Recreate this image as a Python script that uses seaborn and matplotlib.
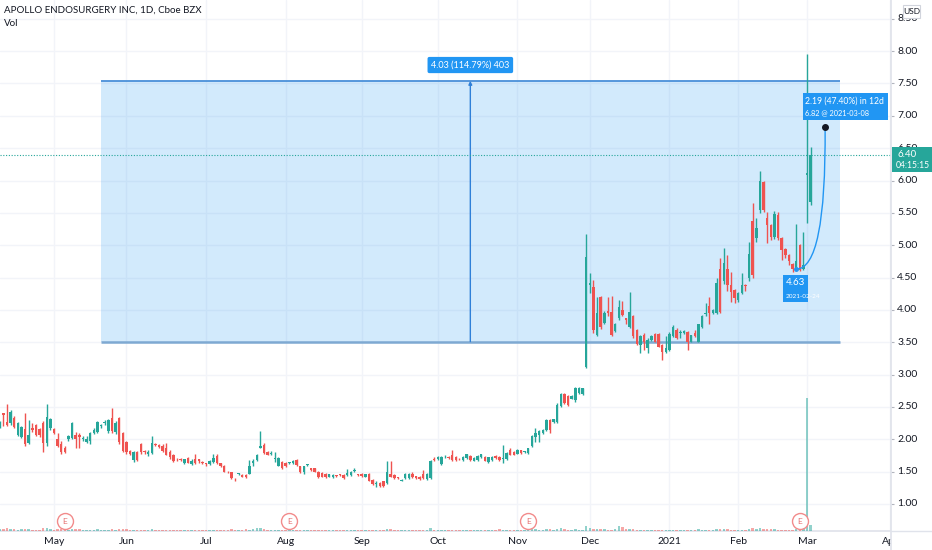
import numpy as np
import pandas as pd
import matplotlib
matplotlib.use('Agg')
import matplotlib.pyplot as plt
import seaborn as sns
from matplotlib.path import Path
from matplotlib.patches import PathPatch, Rectangle

# trading calendar (NYSE holidays removed)
holidays = ['2020-04-10', '2020-05-25', '2020-07-03', '2020-09-07', '2020-11-26',
            '2020-12-25', '2021-01-01', '2021-01-18', '2021-02-15']
bday = pd.offsets.CustomBusinessDay(holidays=holidays)
all_dates = pd.date_range('2020-04-09', '2021-04-01', freq=bday)

# daily OHLC, 2020-04-09 .. 2021-03-02
open_ = [2.22, 2.40, 2.27, 2.25, 2.33, 2.07, 2.04, 2.16, 1.94, 2.17,
         2.22, 2.16, 2.25, 1.94, 2.17, 2.16, 2.00, 1.93, 1.87, 2.00,
         2.02, 2.07, 2.07, 2.00, 1.96, 1.98, 2.10, 2.12, 2.20, 2.25,
         2.13, 2.33, 2.12, 2.33, 2.10, 1.96, 1.82, 1.68, 1.80, 1.92,
         1.82, 1.77, 1.79, 1.93, 1.91, 1.90, 1.86, 1.81, 1.76, 1.70,
         1.70, 1.63, 1.71, 1.62, 1.69, 1.69, 1.65, 1.63, 1.62, 1.65,
         1.74, 1.63, 1.59, 1.50, 1.49, 1.39, 1.46, 1.45, 1.45, 1.47,
         1.64, 1.68, 1.87, 1.91, 1.81, 1.77, 1.70, 1.59, 1.65, 1.64,
         1.63, 1.63, 1.68, 1.58, 1.49, 1.60, 1.55, 1.55, 1.50, 1.48,
         1.47, 1.42, 1.41, 1.44, 1.46, 1.45, 1.45, 1.45, 1.51, 1.46,
         1.47, 1.42, 1.47, 1.37, 1.31, 1.33, 1.35, 1.32, 1.47, 1.45,
         1.41, 1.36, 1.40, 1.40, 1.47, 1.43, 1.42, 1.46, 1.38, 1.40,
         1.69, 1.69, 1.62, 1.72, 1.73, 1.76, 1.72, 1.70, 1.68, 1.71,
         1.74, 1.67, 1.68, 1.72, 1.73, 1.65, 1.68, 1.74, 1.73, 1.70,
         1.69, 1.84, 1.81, 1.78, 1.83, 1.80, 1.79, 1.89, 2.04, 2.07,
         2.09, 2.14, 2.30, 2.26, 2.26, 2.51, 2.70, 2.67, 2.63, 2.61,
         2.71, 2.70, 3.12, 4.39, 4.36, 3.61, 4.20, 3.80, 3.98, 3.97,
         3.68, 3.87, 4.00, 3.87, 3.74, 3.90, 3.69, 3.46, 3.61, 3.41,
         3.54, 3.63, 3.63, 3.46, 3.35, 3.38, 3.59, 3.69, 3.64, 3.64,
         3.66, 3.51, 3.65, 3.51, 3.74, 3.93, 4.06, 3.95, 3.95, 4.64,
         4.44, 4.64, 4.38, 4.31, 4.15, 4.26, 4.39, 4.49, 5.38, 5.11,
         5.54, 5.98, 5.42, 5.31, 5.13, 5.47, 5.11, 4.94, 4.85, 4.71,
         4.64, 5.00, 4.63, 6.08, 5.67]
high = [2.28, 2.41, 2.55, 2.45, 2.36, 2.27, 2.20, 2.41, 2.30, 2.25,
        2.24, 2.18, 2.28, 2.55, 2.33, 2.18, 2.10, 1.97, 1.90, 2.07,
        2.27, 2.12, 2.10, 2.05, 2.05, 2.12, 2.18, 2.29, 2.24, 2.30,
        2.32, 2.49, 2.28, 2.34, 2.12, 1.98, 1.84, 1.82, 1.82, 1.94,
        1.84, 1.83, 2.05, 1.95, 1.93, 1.92, 1.94, 1.83, 1.78, 1.71,
        1.71, 1.70, 1.72, 1.69, 1.78, 1.70, 1.66, 1.64, 1.68, 1.77,
        1.78, 1.64, 1.60, 1.51, 1.50, 1.40, 1.48, 1.46, 1.46, 1.68,
        1.69, 1.77, 2.13, 1.95, 1.82, 1.82, 1.81, 1.72, 1.66, 1.65,
        1.65, 1.68, 1.69, 1.59, 1.59, 1.62, 1.56, 1.56, 1.51, 1.49,
        1.48, 1.47, 1.46, 1.45, 1.47, 1.46, 1.54, 1.51, 1.55, 1.47,
        1.48, 1.47, 1.48, 1.38, 1.35, 1.34, 1.36, 1.67, 1.67, 1.46,
        1.42, 1.38, 1.48, 1.48, 1.50, 1.44, 1.43, 1.53, 1.48, 1.68,
        1.73, 1.74, 1.74, 1.76, 1.74, 1.83, 1.74, 1.71, 1.74, 1.78,
        1.75, 1.72, 1.75, 1.78, 1.74, 1.73, 1.74, 1.75, 1.74, 1.91,
        1.80, 1.86, 1.82, 1.85, 1.84, 1.82, 1.87, 2.06, 2.17, 2.14,
        2.16, 2.31, 2.31, 2.32, 2.56, 2.71, 2.72, 2.68, 2.68, 2.81,
        2.81, 2.80, 5.17, 4.57, 4.46, 4.20, 4.22, 3.98, 4.20, 4.21,
        3.80, 4.15, 4.14, 3.88, 4.28, 3.92, 3.70, 3.61, 3.64, 3.56,
        3.62, 3.64, 3.64, 3.47, 3.59, 3.66, 3.77, 3.72, 3.69, 3.69,
        3.67, 3.62, 3.69, 3.79, 3.92, 4.10, 4.20, 4.02, 4.49, 4.80,
        4.95, 4.85, 4.59, 4.32, 4.28, 4.57, 4.40, 5.05, 5.65, 5.42,
        6.14, 6.00, 5.52, 5.33, 5.53, 5.52, 5.12, 4.95, 4.86, 4.72,
        5.33, 5.02, 5.21, 7.95, 6.52]
low = [2.18, 2.20, 2.20, 2.22, 2.17, 2.05, 2.02, 1.90, 1.93, 2.12,
       2.05, 2.04, 1.80, 1.90, 2.14, 2.08, 1.88, 1.78, 1.79, 1.98,
       2.00, 1.87, 1.87, 1.98, 1.94, 1.93, 2.08, 2.10, 2.18, 2.22,
       2.10, 2.10, 2.08, 1.93, 1.80, 1.78, 1.75, 1.65, 1.66, 1.78,
       1.78, 1.74, 1.77, 1.89, 1.86, 1.80, 1.75, 1.70, 1.65, 1.66,
       1.66, 1.62, 1.63, 1.61, 1.62, 1.64, 1.62, 1.58, 1.61, 1.64,
       1.62, 1.57, 1.49, 1.48, 1.39, 1.36, 1.45, 1.41, 1.40, 1.46,
       1.58, 1.66, 1.86, 1.78, 1.75, 1.76, 1.65, 1.58, 1.54, 1.57,
       1.62, 1.62, 1.59, 1.48, 1.47, 1.59, 1.51, 1.49, 1.40, 1.41,
       1.40, 1.41, 1.40, 1.42, 1.44, 1.39, 1.44, 1.44, 1.50, 1.44,
       1.42, 1.41, 1.35, 1.30, 1.27, 1.27, 1.27, 1.31, 1.41, 1.38,
       1.39, 1.35, 1.39, 1.39, 1.40, 1.39, 1.37, 1.39, 1.37, 1.39,
       1.67, 1.68, 1.61, 1.71, 1.70, 1.67, 1.67, 1.68, 1.67, 1.70,
       1.67, 1.66, 1.67, 1.71, 1.66, 1.64, 1.67, 1.70, 1.67, 1.63,
       1.68, 1.75, 1.75, 1.77, 1.78, 1.79, 1.78, 1.88, 1.96, 1.96,
       2.08, 2.13, 2.09, 2.25, 2.25, 2.50, 2.55, 2.52, 2.62, 2.58,
       2.70, 2.69, 3.10, 4.26, 3.64, 3.60, 3.70, 3.78, 3.90, 3.60,
       3.66, 3.85, 3.90, 3.78, 3.72, 3.57, 3.46, 3.33, 3.38, 3.33,
       3.52, 3.50, 3.42, 3.22, 3.33, 3.37, 3.58, 3.55, 3.56, 3.63,
       3.38, 3.50, 3.58, 3.50, 3.72, 3.90, 3.79, 3.93, 3.93, 3.95,
       4.40, 4.30, 4.12, 4.10, 4.13, 4.24, 4.30, 4.45, 4.50, 5.05,
       5.50, 5.52, 5.03, 5.08, 5.10, 5.08, 4.77, 4.80, 4.70, 4.58,
       4.63, 4.60, 4.61, 5.35, 5.62]
close = [2.25, 2.37, 2.22, 2.42, 2.19, 2.25, 2.19, 1.93, 2.07, 2.15,
         2.07, 2.07, 1.94, 2.34, 2.31, 2.10, 1.90, 1.81, 1.81, 2.05,
         2.25, 2.00, 2.04, 2.02, 2.01, 2.10, 2.14, 2.27, 2.22, 2.27,
         2.30, 2.13, 2.25, 1.96, 1.82, 1.80, 1.78, 1.80, 1.68, 1.80,
         1.80, 1.80, 1.94, 1.91, 1.88, 1.82, 1.76, 1.72, 1.67, 1.69,
         1.68, 1.69, 1.64, 1.67, 1.63, 1.66, 1.63, 1.62, 1.67, 1.71,
         1.63, 1.58, 1.50, 1.49, 1.40, 1.38, 1.47, 1.42, 1.41, 1.58,
         1.66, 1.76, 1.89, 1.79, 1.76, 1.78, 1.71, 1.71, 1.55, 1.58,
         1.64, 1.67, 1.60, 1.49, 1.58, 1.61, 1.52, 1.50, 1.41, 1.42,
         1.41, 1.46, 1.45, 1.43, 1.45, 1.40, 1.48, 1.50, 1.52, 1.45,
         1.43, 1.46, 1.36, 1.31, 1.32, 1.28, 1.28, 1.50, 1.42, 1.40,
         1.40, 1.37, 1.47, 1.47, 1.41, 1.40, 1.38, 1.40, 1.47, 1.67,
         1.68, 1.73, 1.72, 1.73, 1.71, 1.68, 1.68, 1.69, 1.73, 1.77,
         1.68, 1.71, 1.74, 1.77, 1.67, 1.72, 1.73, 1.71, 1.68, 1.71,
         1.79, 1.76, 1.76, 1.84, 1.79, 1.81, 1.86, 2.05, 2.09, 2.13,
         2.15, 2.30, 2.14, 2.31, 2.53, 2.70, 2.56, 2.53, 2.67, 2.80,
         2.80, 2.79, 4.82, 4.41, 3.69, 3.95, 3.74, 3.96, 3.96, 3.61,
         3.79, 4.05, 3.92, 3.85, 3.97, 3.59, 3.48, 3.59, 3.51, 3.54,
         3.60, 3.51, 3.43, 3.35, 3.41, 3.63, 3.73, 3.56, 3.65, 3.68,
         3.51, 3.61, 3.59, 3.78, 3.90, 3.95, 3.95, 4.00, 4.41, 3.97,
         4.72, 4.38, 4.28, 4.18, 4.26, 4.38, 4.37, 4.86, 4.54, 5.26,
         6.00, 5.54, 5.31, 5.13, 5.48, 5.11, 4.93, 4.85, 4.75, 4.63,
         4.75, 4.62, 4.69, 6.12, 6.40]
# volume in millions of shares
volume = [0.35, 0.4, 0.5, 0.3, 0.3, 0.25, 0.3, 0.45, 0.3, 0.2, 0.25, 0.2, 0.5, 0.55, 0.3,
          0.25, 0.3, 0.3, 0.2, 0.25, 0.35, 0.3, 0.3, 0.2, 0.2, 0.25, 0.2, 0.3, 0.2, 0.15,
          0.25, 0.4, 0.25, 0.45, 0.35,
          0.3, 0.2, 0.25, 0.2, 0.25, 0.15, 0.15, 0.3, 0.15, 0.15, 0.2, 0.2, 0.2, 0.2, 0.15,
          0.15, 0.15, 0.15, 0.15, 0.2, 0.15, 0.15,
          0.15, 0.15, 0.2, 0.25, 0.2, 0.25, 0.15, 0.3, 0.2, 0.15, 0.15, 0.3, 0.25, 0.3,
          0.5, 0.6, 0.35, 0.2, 0.15, 0.2, 0.2, 0.25,
          0.2, 0.3, 0.2, 0.15, 0.2, 0.2, 0.15, 0.15, 0.15, 0.2, 0.15, 0.15, 0.15, 0.15,
          0.15, 0.15, 0.15, 0.2, 0.15, 0.15, 0.15,
          0.15, 0.15, 0.2, 0.2, 0.15, 0.15, 0.15, 0.4, 0.3, 0.2, 0.15, 0.15, 0.15, 0.15,
          0.15, 0.15, 0.15, 0.2, 0.2, 0.5, 0.25,
          0.2, 0.2, 0.15, 0.15, 0.2, 0.15, 0.15, 0.15, 0.2, 0.15, 0.15, 0.15, 0.15, 0.15,
          0.15, 0.15, 0.15, 0.35, 0.2, 0.2, 0.2, 0.15,
          0.15, 0.15, 0.15, 0.2, 0.4, 0.3, 0.25, 0.2, 0.3, 0.3, 0.25, 0.4, 0.5, 0.3,
          0.25, 0.2, 0.3, 0.2, 0.15, 0.9,
          0.5, 0.4, 0.3, 0.35, 0.3, 0.25, 0.25, 0.3, 0.9, 0.8, 0.4, 0.3, 0.3, 0.25,
          0.2, 0.2, 0.2, 0.2, 0.15, 0.2, 0.2, 0.2,
          0.2, 0.2, 0.2, 0.2, 0.15, 0.2, 0.15, 0.2, 0.3, 0.2, 0.2, 0.2, 0.25, 0.35,
          0.4, 0.35, 0.3, 0.25, 0.2,
          0.2, 0.2, 0.2, 0.3, 0.6, 0.4, 0.5, 0.4, 0.3, 0.3, 0.3, 0.25, 0.2, 0.2,
          0.2, 0.2, 0.3, 0.35, 0.3,
          26.5, 1.1]
earnings_dates = ['2020-05-06', '2020-08-04', '2020-11-05', '2021-02-25']

# drawings on the chart
range_start, range_end = '2020-05-20', '2021-03-12'
range_low, range_high = 3.51, 7.54
range_label = '4.03 (114.79%) 403'
proj_start, proj_start_price = '2021-02-24', 4.63
proj_end, proj_end_price = '2021-03-08', 6.82
proj_label = '2.19 (47.40%) in 12d'
proj_sub = '6.82 @ 2021-03-08'
last_price = 6.40
countdown = '04:15:15'

n = len(close)
df = pd.DataFrame({'date': all_dates[:n], 'open': open_, 'high': high,
                   'low': low, 'close': close, 'volume': volume})
df['i'] = np.arange(n)
up = df['close'] >= df['open']
GREEN, RED = '#26a69a', '#ef5350'
colors = np.where(up, GREEN, RED)

sns.set_theme(style='white')
plt.rcParams['font.family'] = ['Lato', 'DejaVu Sans']

W, H = 932, 550
fig = plt.figure(figsize=(W / 100, H / 100), dpi=100)
ax = fig.add_axes([0, 19 / H, 891 / W, 531 / H])
ax.set_xlim(0.083, 246.2)
ax.set_ylim(0.583, 8.79)
for s in ax.spines.values():
    s.set_visible(False)
ax.spines['bottom'].set_visible(True)
ax.spines['bottom'].set_color('#e0e3eb')

# grid
ax.set_yticks(np.arange(1.0, 8.51, 0.5))
tick_idx, tick_lab = [], []
for k in range(1, len(all_dates)):
    if all_dates[k].month != all_dates[k - 1].month:
        tick_idx.append(k)
        d = all_dates[k]
        tick_lab.append(str(d.year) if d.month == 1 else d.strftime('%b'))
ax.set_xticks(tick_idx)
ax.set_xticklabels(tick_lab, fontsize=7.5, color='#131722')
ax.tick_params(axis='x', length=0, pad=4)
ax.tick_params(axis='y', length=0, labelleft=False)
ax.grid(True, color='#f2f4f9', lw=1)
ax.set_axisbelow(True)

def pos(date):
    return all_dates.get_loc(pd.Timestamp(date))

# price range tool
x0, x1 = pos(range_start), pos(range_end)
ax.add_patch(Rectangle((x0, range_low), x1 - x0, range_high - range_low,
                       fc='#2196f3', alpha=0.2, ec='none', zorder=1))
ax.hlines(range_high, x0, x1, color='#4a90d9', lw=1.3, zorder=2)
ax.hlines(range_low, x0, x1, color='#7ea9d2', lw=1.8, zorder=2)
xm = (x0 + x1) / 2
ax.annotate('', xy=(xm, range_high), xytext=(xm, range_low),
            arrowprops=dict(arrowstyle='-|>', color='#2f80d8', lw=1,
                            mutation_scale=5, shrinkA=0, shrinkB=0), zorder=2)
ax.text(xm, 7.785, range_label, ha='center', va='center', fontsize=6.5,
        color='white', zorder=6,
        bbox=dict(boxstyle='round,pad=0.4,rounding_size=0.2', fc='#2196f3', ec='none'))

# last price line
ax.axhline(last_price, color=GREEN, ls=(0, (1, 1.5)), lw=0.8, zorder=2)

# candles
ax.vlines(df['i'], df['low'], df['high'], colors=colors, lw=1, zorder=3)
body = (df['close'] - df['open']).abs().clip(lower=0.012)
ax.bar(df['i'], body, bottom=np.minimum(df['open'], df['close']),
       width=0.68, color=colors, lw=0, zorder=4)

# projection curve
p0 = (pos(proj_start), proj_start_price)
p2 = (pos(proj_end), proj_end_price)
p1 = (p2[0] + 0.3, proj_start_price)
curve = Path([p0, p1, p2], [Path.MOVETO, Path.CURVE3, Path.CURVE3])
ax.add_patch(PathPatch(curve, fill=False, ec='#2196f3', lw=1, zorder=5))
ax.plot(*p2, 'o', color='#131722', ms=4, zorder=6)
ax.plot(p0[0], p0[1], 'o', color='#2196f3', ms=2.5, zorder=6)
ax.add_patch(Rectangle((221.9, 6.94), 23.5, 0.41, fc='#2196f3', ec='none', zorder=6))
ax.text(222.4, 7.23, proj_label, fontsize=6.2, color='white', va='center', zorder=7)
ax.text(222.4, 7.04, proj_sub, fontsize=5.3, color='white', va='center', zorder=7)
ax.add_patch(Rectangle((216.4, 4.12), 6.9, 0.42, fc='#2196f3', ec='none', zorder=6))
ax.text(217.1, 4.42, f'{proj_start_price:.2f}', fontsize=7, color='white',
        va='center', zorder=7)
ax.text(217.1, 4.21, proj_start, fontsize=4.6, color='white', va='center', zorder=7)

# volume pane
axv = ax.twinx()
axv.set_ylim(0, df['volume'].max() * 531 / 133)
axv.bar(df['i'], df['volume'], width=0.68, color=colors, alpha=0.5, lw=0)
axv.set_yticks([])
for s in axv.spines.values():
    s.set_visible(False)

# earnings markers
ex = [pos(d) for d in earnings_dates]
xtr = ax.get_xaxis_transform()
axv.plot(ex, [0.0188] * len(ex), 'o', ms=11.5, mfc='white', mec='#f28b8b',
         mew=1, transform=xtr, clip_on=False, zorder=8)
for e in ex:
    axv.text(e, 0.0188, 'E', transform=xtr, ha='center', va='center',
             fontsize=6, color='#e57373', zorder=9)

# price scale
axr = fig.add_axes([891 / W, 0, 41 / W, 1])
axr.set_zorder(5)
axr.set_facecolor('white')
axr.set_xlim(0, 1)
axr.set_ylim(0.289, 8.79)
axr.set_xticks([])
axr.set_yticks([])
for s in axr.spines.values():
    s.set_visible(False)
axr.spines['left'].set_visible(True)
axr.spines['left'].set_color('#e0e3eb')
axr.axhline(0.583, color='#e0e3eb', lw=1)
for v in np.arange(1.0, 8.51, 0.5):
    axr.hlines(v, 0, 0.08, color='#b2b5be', lw=0.8)
    axr.text(0.15, v, f'{v:.2f}', fontsize=7.5, color='#131722', va='center')
axr.add_patch(Rectangle((0.03, 6.13), 0.97, 0.39, fc=GREEN, ec='none', zorder=5))
axr.text(0.15, 6.40, f'{last_price:.2f}', fontsize=7, color='white',
         va='center', zorder=6)
axr.text(0.12, 6.225, countdown, fontsize=6.2, color='white', va='center', zorder=6)
axr.add_patch(Rectangle((0.29, 8.51), 0.42, 0.2, fc='white', ec='#d1d4dc',
                        lw=0.8, zorder=5))
axr.text(0.5, 8.61, 'USD', fontsize=6, color='#131722', ha='center',
         va='center', zorder=6)

fig.text(4 / W, 1 - 10 / H, 'APOLLO ENDOSURGERY INC, 1D, Cboe BZX',
         fontsize=7, color='#131722', va='center')
fig.text(4 / W, 1 - 24 / H, 'Vol', fontsize=7, color='#131722', va='center')

fig.savefig('out.png', dpi=100)
